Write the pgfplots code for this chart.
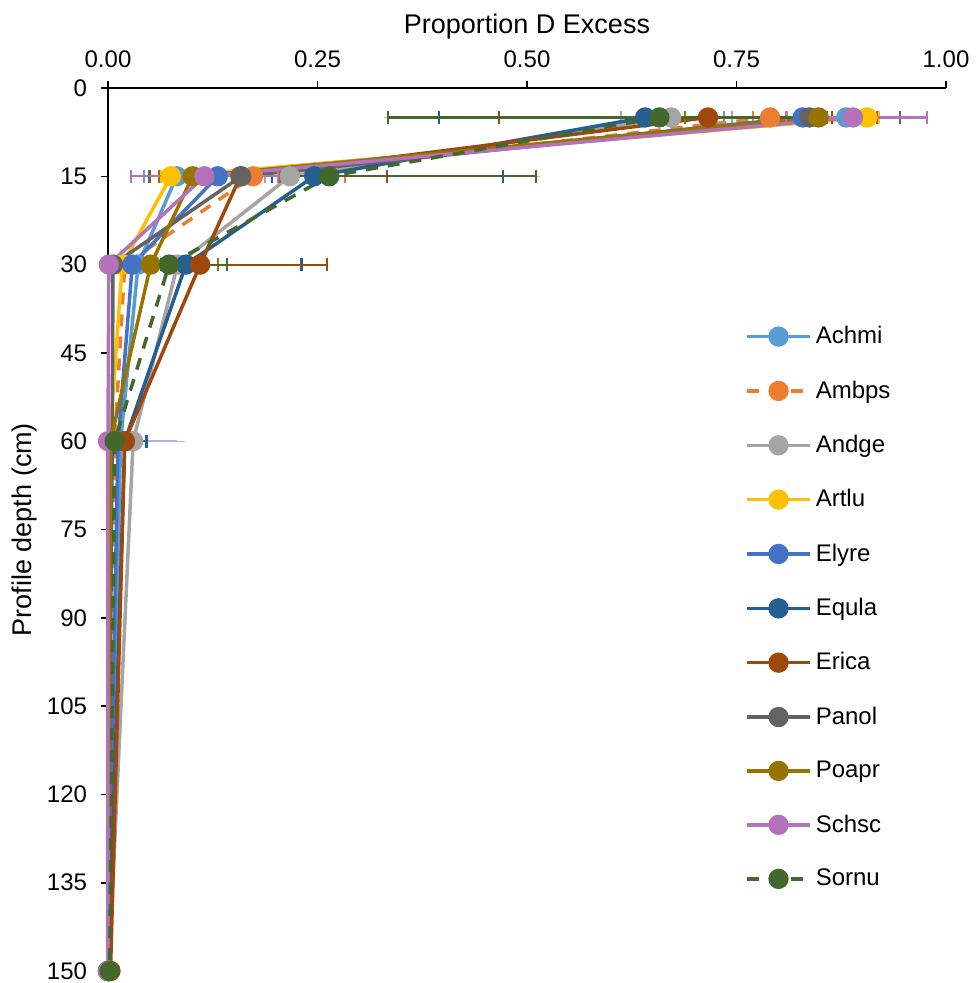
\documentclass[border=0pt]{standalone}
\usepackage{pgfplots}
\usepackage{pgfplotstable}
\pgfplotsset{compat=1.18}
\usetikzlibrary{calc}
\usepackage{fontspec}
\setmainfont{Liberation Sans}

\definecolor{cAchmi}{HTML}{5B9BD5}
\definecolor{cAmbps}{HTML}{ED7D31}
\definecolor{cAndge}{HTML}{A5A5A5}
\definecolor{cArtlu}{HTML}{FFC000}
\definecolor{cElyre}{HTML}{4472C4}
\definecolor{cElyreErr}{HTML}{B4B4DC}
\definecolor{cEqula}{HTML}{255E91}
\definecolor{cErica}{HTML}{9E480E}
\definecolor{cPanol}{HTML}{636363}
\definecolor{cPoapr}{HTML}{997300}
\definecolor{cSchsc}{HTML}{B472BB}
\definecolor{cSornu}{HTML}{43682B}

% depth (cm), proportion, error plus, error minus
\pgfplotstableread{
d x ep em
5 0.881 0.030 0.146
15 0.082 0.030 0.039
30 0.036 0.010 0.010
60 0.015 0.005 0.005
150 0.001 0 0
}\tAchmi
\pgfplotstableread{
d x ep em
5 0.790 0.020 0.020
15 0.173 0.110 0.020
30 0.020 0.010 0.010
60 0.008 0.005 0.005
150 0.001 0 0
}\tAmbps
\pgfplotstableread{
d x ep em
5 0.672 0.073 0.060
15 0.217 0.030 0.030
30 0.083 0.010 0.010
60 0.030 0.005 0.005
150 0.001 0 0
}\tAndge
\pgfplotstableread{
d x ep em
5 0.906 0.014 0.010
15 0.075 0.012 0.012
30 0.017 0.005 0.005
60 0.002 0.002 0.002
150 0.000 0 0
}\tArtlu
\pgfplotstableread{
d x ep em
5 0.829 0.030 0.490
15 0.131 0.375 0.050
30 0.029 0.181 0.010
60 0.012 0.070 0.005
150 0.000 0 0
}\tElyre
\pgfplotstableread{
d x ep em
5 0.641 0.246 0.246
15 0.246 0.225 0.050
30 0.093 0.138 0.030
60 0.020 0.026 0.010
150 0.001 0 0
}\tEqula
\pgfplotstableread{
d x ep em
5 0.716 0.148 0.249
15 0.158 0.175 0.108
30 0.110 0.151 0.030
60 0.020 0.005 0.005
150 0.003 0 0
}\tErica
\pgfplotstableread{
d x ep em
5 0.837 0.108 0.050
15 0.159 0.020 0.110
30 0.006 0.005 0.005
60 0.005 0.003 0.003
150 0.000 0 0
}\tPanol
\pgfplotstableread{
d x ep em
5 0.848 0.070 0.159
15 0.101 0.104 0.040
30 0.051 0.080 0.020
60 0.003 0.002 0.002
150 0.000 0 0
}\tPoapr
\pgfplotstableread{
d x ep em
5 0.889 0.088 0.080
15 0.115 0.088 0.088
30 0.001 0.001 0.001
60 0.000 0 0
150 0.000 0 0
}\tSchsc
\pgfplotstableread{
d x ep em
5 0.658 0.200 0.324
15 0.264 0.247 0.050
30 0.073 0.069 0.020
60 0.008 0.005 0.005
150 0.002 0 0
}\tSornu

\newcommand{\lbl}{\fontsize{12bp}{14bp}\selectfont}
\newcommand{\ttl}{\fontsize{13.5bp}{16bp}\selectfont}

\pgfplotsset{
  series/.style={
    color=#1, line width=1.75bp, mark=*, mark size=4.2bp,
    mark options={solid, fill=#1, draw=#1},
    error bars/x dir=both, error bars/x explicit,
    error bars/error bar style={line width=1.1bp, solid, color=#1},
    error bars/error mark options={rotate=90, mark size=3.3bp, line width=1.1bp, solid, color=#1},
  },
}

\begin{document}
\begin{tikzpicture}
\begin{axis}[
  name=ax,
  scale only axis, width=419bp, height=441.5bp,
  xmin=0, xmax=1, ymin=0, ymax=150, y dir=reverse,
  xtick={0,0.25,0.5,0.75,1}, ytick={0,15,...,150},
  xticklabel pos=upper, xtick pos=upper,
  ytick pos=left,
  tick align=outside, major tick length=3.5bp,
  tick style={black, line width=0.8bp},
  axis line style={draw=none},
  tick label style={font=\lbl},
  y tick label style={xshift=-3.5bp},
  x tick label style={yshift=3bp, /pgf/number format/.cd, fixed, fixed zerofill, precision=2},
  /pgf/number format/assume math mode=true,
  xlabel={Proportion D Excess}, ylabel={Profile depth (cm)},
  label style={font=\ttl},
  xlabel style={at={(axis description cs:0.5,1)}, anchor=center, yshift=30.5bp},
  ylabel style={at={(axis description cs:0,0.5)}, anchor=center, yshift=41.5bp},
  legend style={draw=none, fill=none, font=\lbl,
    at={(axis description cs:0.76,0.735)}, anchor=north west,
    row sep=13bp, inner sep=0pt},
  legend cell align=left,
  legend image code/.code={\draw[mark repeat=2, mark phase=2, #1]
    plot coordinates {(0bp,0bp) (15.75bp,0bp) (31.5bp,0bp)};},
  clip=false,
]
\draw[black, line width=1bp] (rel axis cs:0,1) -- (rel axis cs:1,1);
\draw[black, line width=1bp] (rel axis cs:0,0) -- (rel axis cs:0,1);

\addplot[series=cAchmi] table[x=x, y=d, x error plus=ep, x error minus=em] {\tAchmi};
\addlegendentry{Achmi}
\addplot[series=cAmbps, dash pattern=on 6bp off 5bp] table[x=x, y=d, x error plus=ep, x error minus=em] {\tAmbps};
\addlegendentry{Ambps}
\addplot[series=cAndge] table[x=x, y=d, x error plus=ep, x error minus=em] {\tAndge};
\addlegendentry{Andge}
\addplot[series=cArtlu] table[x=x, y=d, x error plus=ep, x error minus=em] {\tArtlu};
\addlegendentry{Artlu}
\addplot[series=cElyre, error bars/error bar style={color=cElyreErr}, error bars/error mark options={color=cElyreErr}] table[x=x, y=d, x error plus=ep, x error minus=em] {\tElyre};
\addlegendentry{Elyre}
\addplot[series=cEqula] table[x=x, y=d, x error plus=ep, x error minus=em] {\tEqula};
\addlegendentry{Equla}
\addplot[series=cErica] table[x=x, y=d, x error plus=ep, x error minus=em] {\tErica};
\addlegendentry{Erica}
\addplot[series=cPanol] table[x=x, y=d, x error plus=ep, x error minus=em] {\tPanol};
\addlegendentry{Panol}
\addplot[series=cPoapr] table[x=x, y=d, x error plus=ep, x error minus=em] {\tPoapr};
\addlegendentry{Poapr}
\addplot[series=cSchsc] table[x=x, y=d, x error plus=ep, x error minus=em] {\tSchsc};
\addlegendentry{Schsc}
\addplot[series=cSornu, dash pattern=on 6bp off 5bp] table[x=x, y=d, x error plus=ep, x error minus=em] {\tSornu};
\addlegendentry{Sornu}
\end{axis}
\pgfresetboundingbox
\path ($(ax.north west)+(-54bp,44bp)$) rectangle ($(ax.south east)+(15bp,-6bp)$);
\end{tikzpicture}
\end{document}
